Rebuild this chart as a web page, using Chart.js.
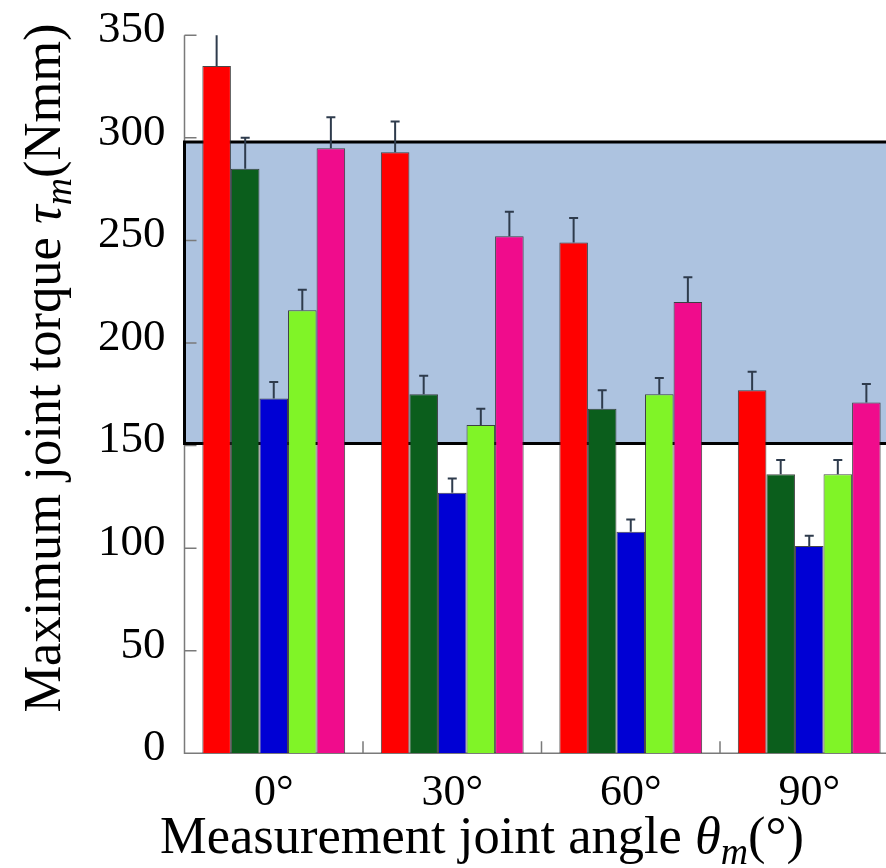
<!DOCTYPE html>
<html>
<head>
<meta charset="utf-8">
<script src="https://cdn.jsdelivr.net/npm/chart.js@4.4.1/dist/chart.umd.min.js"></script>
<style>
  html, body { margin: 0; padding: 0; background: #fff; overflow: hidden; }
  #wrap { width: 886px; height: 868px; overflow: hidden; position: relative; }
  #torqueChart { position: absolute; left: 0; top: 0; }
</style>
</head>
<body>
<div id="wrap"><canvas id="torqueChart" width="900" height="868"></canvas></div>
<script>
// Measurement angles and torque per condition (Nmm), upper error = SD
const angles = ['0°', '30°', '60°', '90°'];
const redTorque   = [335, 293, 249, 177];
const redErr      = [18, 15, 12, 9];
const dkGreenTorque = [285, 175, 168, 136];
const dkGreenErr    = [15, 9, 9, 7];
const blueTorque  = [173, 127, 108, 101];
const blueErr     = [8, 7, 6, 5];
const limeTorque  = [216, 160, 175, 136];
const limeErr     = [10, 8, 8, 7];
const pinkTorque  = [295, 252, 220, 171];
const pinkErr     = [15, 12, 12, 9];
const yTicks = [0, 50, 100, 150, 200, 250, 300, 350];
// shaded target range
const bandLow = 151;
const bandHigh = 298;

const SERIF = '"Liberation Serif", "Times New Roman", serif';

const series = [
    { data: redTorque, err: redErr, color: '#ff0000' },
    { data: dkGreenTorque, err: dkGreenErr, color: '#0b5e1c' },
    { data: blueTorque, err: blueErr, color: '#0000d4' },
    { data: limeTorque, err: limeErr, color: '#80f427' },
    { data: pinkTorque, err: pinkErr, color: '#f00c8c' }
];

// band, axes with inward ticks
const backdropPlugin = {
    id: 'backdrop',
    beforeDatasetsDraw(chart) {
        const { ctx, chartArea: a, scales: { x, y } } = chart;
        const yHi = y.getPixelForValue(bandHigh);
        const yLo = y.getPixelForValue(bandLow);
        ctx.save();
        ctx.fillStyle = '#adc3e0';
        ctx.fillRect(a.left, yHi, a.right - a.left + 20, yLo - yHi);

        // axes
        ctx.strokeStyle = '#7a7a7a';
        ctx.lineWidth = 1.5;
        ctx.beginPath();
        ctx.moveTo(a.left, a.top);
        ctx.lineTo(a.left, a.bottom);
        ctx.lineTo(a.right + 20, a.bottom);
        yTicks.forEach(v => {
            const py = y.getPixelForValue(v);
            ctx.moveTo(a.left, py);
            ctx.lineTo(a.left + 12, py);
        });
        for (let i = 1; i < angles.length; i++) {
            const px = (x.getPixelForValue(i - 1) + x.getPixelForValue(i)) / 2;
            ctx.moveTo(px, a.bottom);
            ctx.lineTo(px, a.bottom - 12);
        }
        ctx.stroke();

        // band outline
        ctx.strokeStyle = '#000';
        ctx.lineWidth = 3;
        ctx.beginPath();
        ctx.moveTo(a.right + 20, yHi);
        ctx.lineTo(a.left, yHi);
        ctx.lineTo(a.left, yLo);
        ctx.lineTo(a.right + 20, yLo);
        ctx.stroke();
        ctx.restore();
    }
};

const errorBarPlugin = {
    id: 'errorBars',
    afterDatasetsDraw(chart) {
        const { ctx, chartArea: a, scales: { y } } = chart;
        ctx.save();
        ctx.beginPath();
        ctx.rect(a.left, a.top, a.right - a.left, a.bottom - a.top);
        ctx.clip();
        ctx.strokeStyle = '#2e3b4c';
        ctx.lineWidth = 2;
        chart.data.datasets.forEach((ds, i) => {
            chart.getDatasetMeta(i).data.forEach((bar, j) => {
                const top = y.getPixelForValue(ds.data[j] + ds.errorPlus[j]);
                ctx.beginPath();
                ctx.moveTo(bar.x, bar.y);
                ctx.lineTo(bar.x, top);
                ctx.moveTo(bar.x - 4.5, top);
                ctx.lineTo(bar.x + 4.5, top);
                ctx.stroke();
            });
        });
        ctx.restore();
    }
};

// axis titles with italic math symbols
function drawRich(ctx, parts, size) {
    let total = 0;
    parts.forEach(p => {
        ctx.font = `${p.italic ? 'italic ' : ''}${size * (p.scale || 1)}px ${SERIF}`;
        p.w = ctx.measureText(p.text).width;
        total += p.w;
    });
    let cx = -total / 2;
    parts.forEach(p => {
        ctx.font = `${p.italic ? 'italic ' : ''}${size * (p.scale || 1)}px ${SERIF}`;
        ctx.fillText(p.text, cx, (p.dy || 0) * size);
        cx += p.w;
    });
}

const titlePlugin = {
    id: 'axisTitles',
    afterDraw(chart) {
        const { ctx } = chart;
        ctx.save();
        ctx.fillStyle = '#000';
        ctx.textBaseline = 'alphabetic';
        ctx.textAlign = 'left';

        ctx.save();
        ctx.translate(482, 853);
        drawRich(ctx, [
            { text: 'Measurement joint angle ' },
            { text: 'θ', italic: true },
            { text: 'm', italic: true, scale: 0.72, dy: 0.2 },
            { text: '(°)' }
        ], 52.5);
        ctx.restore();

        ctx.save();
        ctx.translate(60, 368);
        ctx.rotate(-Math.PI / 2);
        drawRich(ctx, [
            { text: 'Maximum joint torque ' },
            { text: 'τ', italic: true },
            { text: 'm', italic: true, scale: 0.72, dy: 0.2 },
            { text: '(Nmm)' }
        ], 52.5);
        ctx.restore();

        ctx.restore();
    }
};

new Chart(document.getElementById('torqueChart'), {
    type: 'bar',
    data: {
        labels: angles,
        datasets: series.map(s => ({
            data: s.data,
            errorPlus: s.err,
            backgroundColor: s.color,
            borderColor: 'rgba(40,40,40,0.85)',
            borderWidth: 1,
            categoryPercentage: 0.8,
            barPercentage: 1.0
        }))
    },
    options: {
        responsive: false,
        animation: false,
        layout: { padding: { top: 35.3, right: 1.5, left: 0, bottom: 0 } },
        plugins: { legend: { display: false }, tooltip: { enabled: false } },
        scales: {
            x: {
                grid: { display: false, drawTicks: false },
                border: { display: false },
                ticks: { color: '#000', font: { family: SERIF, size: 44 }, padding: 14 },
                afterFit: s => { s.height = 114.7; s.paddingLeft = 0; s.paddingRight = 0; }
            },
            y: {
                min: 0,
                max: 350,
                grid: { display: false, drawTicks: false },
                border: { display: false },
                ticks: {
                    stepSize: 50,
                    color: '#000',
                    font: { family: SERIF, size: 45 },
                    padding: 19,
                    labelOffset: -5
                },
                afterFit: s => { s.width = 184.5; s.paddingTop = 0; s.paddingBottom = 0; }
            }
        }
    },
    plugins: [backdropPlugin, errorBarPlugin, titlePlugin]
});
</script>
</body>
</html>
